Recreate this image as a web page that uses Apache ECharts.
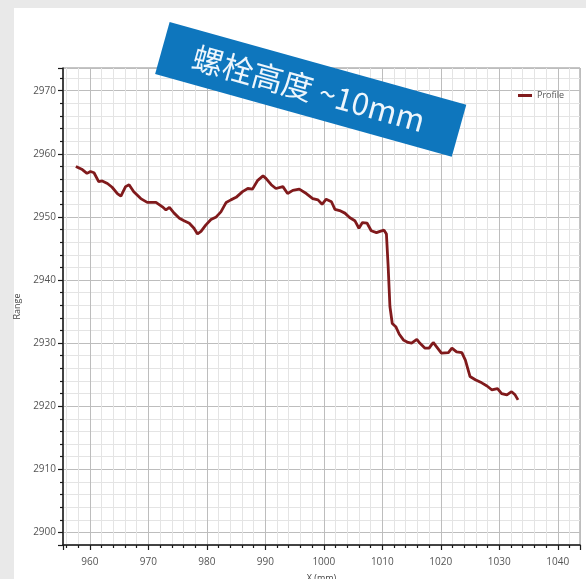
<!DOCTYPE html>
<html><head><meta charset="utf-8">
<script src="https://cdn.jsdelivr.net/npm/echarts@6/dist/echarts.min.js"></script>
<style>
html,body{margin:0;padding:0;background:#e9e9e9;width:586px;height:579px;overflow:hidden}
#panel{position:absolute;left:14px;top:8px;width:572px;height:571px;background:#fff}
#chart{position:absolute;left:0;top:0;width:586px;height:579px}
</style></head><body>
<div id="panel"></div><div id="chart"></div>
<script>
const seriesName = 'Profile';
const xValues = [957.6,958.7,959.5,960.1,960.7,961.5,962.1,963.0,963.8,964.7,965.3,966.1,966.7,967.5,968.7,969.8,971.3,972.4,973.0,973.6,974.4,975.3,976.1,977.0,977.8,978.4,979.0,979.8,980.7,981.6,982.4,983.3,984.1,985.0,986.1,987.0,987.8,988.7,989.6,990.1,991.0,991.8,993.0,993.8,994.7,995.8,997.0,998.1,999.0,999.7,1000.4,1001.3,1001.9,1002.7,1003.6,1004.4,1005.3,1006.0,1006.6,1007.4,1008.1,1009.0,1009.6,1010.3,1010.7,1011.0,1011.3,1011.7,1012.3,1012.9,1013.6,1014.4,1015.0,1015.9,1016.4,1017.3,1018.0,1018.7,1020.1,1021.3,1021.9,1022.7,1023.6,1024.2,1025.0,1025.9,1027.0,1027.9,1028.7,1029.7,1030.4,1031.3,1032.1,1032.7,1033.2];
const rangeValues = [2958.0,2957.5,2956.9,2957.2,2957.0,2955.6,2955.7,2955.3,2954.7,2953.7,2953.3,2954.8,2955.1,2954.0,2952.9,2952.3,2952.3,2951.6,2951.1,2951.5,2950.6,2949.8,2949.4,2949.0,2948.2,2947.3,2947.7,2948.7,2949.6,2950.0,2950.8,2952.3,2952.7,2953.1,2954.0,2954.5,2954.4,2955.8,2956.5,2956.1,2955.1,2954.5,2954.8,2953.7,2954.2,2954.4,2953.7,2952.9,2952.7,2952.0,2952.8,2952.4,2951.2,2951.0,2950.6,2949.9,2949.4,2948.2,2949.1,2949.0,2947.8,2947.5,2947.7,2947.9,2947.3,2942.1,2935.8,2933.1,2932.6,2931.4,2930.5,2930.1,2930.0,2930.6,2930.0,2929.2,2929.2,2930.1,2928.4,2928.5,2929.2,2928.6,2928.5,2927.3,2924.7,2924.2,2923.7,2923.2,2922.6,2922.8,2922.0,2921.8,2922.3,2921.8,2921.0];
const xAxisName = 'X (mm)';
const yAxisName = 'Range';
const bannerText = '螺栓高度 ~10mm';

const points = xValues.map((x, i) => [x, rangeValues[i]]);
const labelFmt = v => (Math.abs(v % 10) < 1e-6 ? String(Math.round(v)) : '');
const axisCommon = {
  type: 'value',
  minInterval: 10, maxInterval: 10,
  axisLine: { show: true, onZero: false, lineStyle: { color: '#1a1a1a', width: 1.5 } },
  axisTick: { show: true, length: 5, lineStyle: { color: '#1a1a1a', width: 1.2 } },
  minorTick: { show: true, splitNumber: 5, length: 3, lineStyle: { color: '#1a1a1a', width: 1.2 } },
  splitLine: { show: true, lineStyle: { color: '#bdbdbd', width: 1 } },
  minorSplitLine: { show: true, lineStyle: { color: '#e4e4e4', width: 1 } },
  axisLabel: { formatter: labelFmt, color: '#555', fontSize: 10, fontFamily: 'Open Sans' },
  nameTextStyle: { color: '#444', fontSize: 9, fontFamily: 'Open Sans' }
};
const chart = echarts.init(document.getElementById('chart'), null, { renderer: 'canvas' });
chart.setOption({
  animation: false,
  backgroundColor: 'transparent',
  grid: { left: 63, right: 6, top: 68, bottom: 34, show: true, borderColor: '#8a8a8a', borderWidth: 1, backgroundColor: 'transparent', containLabel: false, outerBoundsMode: 'none' },
  xAxis: Object.assign({}, axisCommon, {
    min: 955.4, max: 1043.8, splitNumber: 9,
    name: xAxisName, nameLocation: 'middle', nameGap: 29,
    axisLabel: Object.assign({}, axisCommon.axisLabel, { margin: 12 })
  }),
  yAxis: Object.assign({}, axisCommon, {
    min: 2898, max: 2973.6, splitNumber: 7,
    name: yAxisName, nameLocation: 'middle', nameGap: 32, nameRotate: 90,
    axisLabel: Object.assign({}, axisCommon.axisLabel, { margin: 7 })
  }),
  legend: {
    left: 513, top: 86, icon: 'rect', itemWidth: 14, itemHeight: 3, itemGap: 5,
    textStyle: { color: '#555', fontSize: 9, fontFamily: 'Open Sans' },
    data: [seriesName]
  },
  series: [{
    name: seriesName, type: 'line', data: points, showSymbol: false, smooth: false,
    lineStyle: { color: '#801a1c', width: 2.8 }, itemStyle: { color: '#801a1c' }
  }],
  graphic: [{
    type: 'group', x: 310.7, y: 89.3, rotation: -15.6 * Math.PI / 180, zlevel: 5, z: 100,
    children: [
      { type: 'rect', z: 100, zlevel: 5, shape: { x: -154, y: -27, width: 308, height: 54 }, style: { fill: '#0e76bd' } },
      { type: 'text', z: 101, zlevel: 5, x: -2, y: 0, style: { text: bannerText, fill: '#eef6fc', fontSize: 31, fontFamily: 'Noto Sans CJK SC', align: 'center', verticalAlign: 'middle' } }
    ]
  }]
});
</script></body></html>
